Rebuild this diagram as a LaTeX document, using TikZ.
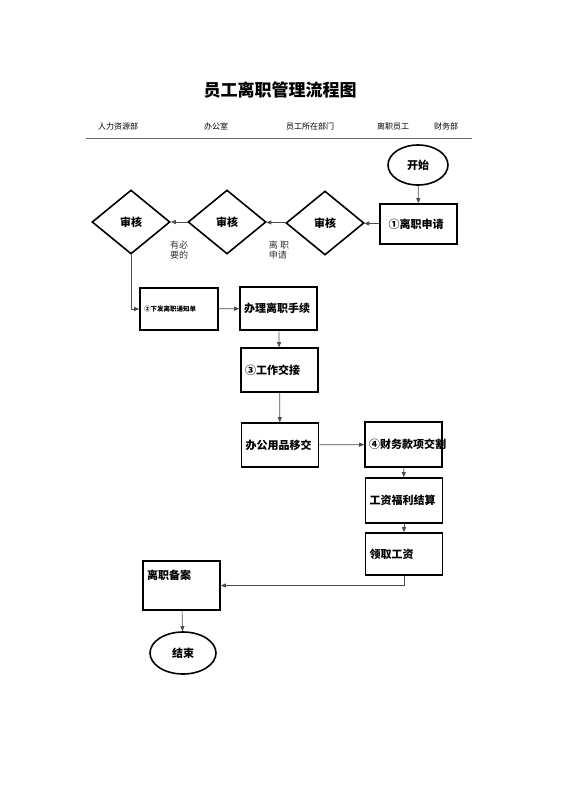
\documentclass[tikz,border=0pt]{standalone}
\usepackage{fontspec}
\setmainfont{Noto Sans CJK SC}
\usetikzlibrary{shapes.geometric,arrows.meta}
\begin{document}
\begin{tikzpicture}[x=1pt,y=-1pt,
 box/.style={draw,line width=1.6pt,minimum width=77pt,text width=69pt,align=left,font=\bfseries\fontsize{11}{11}\selectfont,inner sep=4pt},
 dia/.style={draw,diamond,line width=1.6pt,minimum width=78pt,minimum height=64pt,aspect=1.2,font=\bfseries\fontsize{11}{12}\selectfont,inner sep=0pt},
 ell/.style={draw,ellipse,line width=1.6pt,font=\bfseries\fontsize{11}{12}\selectfont},
 hd/.style={font=\fontsize{8}{9}\selectfont},
 ar/.style={draw=black!70,line width=0.7pt,-{Triangle[length=5pt,width=4pt]}},
 lb/.style={font=\fontsize{9}{10}\selectfont,align=left,text=black!80}]
\useasboundingbox (0,0) rectangle (560,792);
\node[font=\bfseries\fontsize{17}{18}\selectfont] (t) at (280,90) {员工离职管理流程图};
\node[hd] (h1) at (118,126) {人力资源部};
\node[hd] (h2) at (216,126) {办公室};
\node[hd] (h3) at (310,126) {员工所在部门};
\node[hd] (h4) at (393,126) {离职员工};
\node[hd] (h5) at (446,126) {财务部};
\draw[black!60,line width=0.8pt] (86,138) -- (472,138);
\node[ell,minimum width=60pt,minimum height=40pt] (s) at (418,165) {开始};
\node[box,minimum height=40pt,text width=60pt] (a1) at (418.5,224) {①离职申请};
\node[dia] (d3) at (325,223) {审核};
\node[dia] (d2) at (227,222) {审核};
\node[dia] (d1) at (131,222) {审核};
\node[lb] (l2) at (179,250) {有必\\要的};
\node[lb] (l3) at (279,250) {离 职\\申请};
\node[box,minimum height=42pt,text width=70pt,font=\bfseries\fontsize{6.5}{7}\selectfont] (b2) at (179,309) {②下发离职通知单};
\node[box,minimum height=43pt] (b3) at (278.5,308.5) {办理离职手续};
\node[box,minimum height=44pt] (b4) at (279.5,370) {③工作交接};
\node[box,minimum height=44pt] (b5) at (280,445) {办公用品移交};
\node[box,minimum height=45pt] (b6) at (403.5,444.5) {④财务款项交割};
\node[box,minimum height=45pt] (b7) at (404,500.5) {工资福利结算};
\node[box,minimum height=42pt] (b8) at (404,554) {领取工资};
\node[box,minimum height=49pt,text depth=22pt] (b9) at (181.5,585.5) {离职备案};
\node[ell,minimum width=66pt,minimum height=42pt] (e) at (183,653) {结束};
\draw[ar] (s) -- (a1);
\draw[ar] (a1) -- (d3);
\draw[ar] (d3) -- (d2);
\draw[ar] (d2) -- (d1);
\draw[ar] (d1.south) |- (b2.west);
\draw[ar] (b2) -- (b3);
\draw[ar] (b3) -- (b4);
\draw[ar] (b4) -- (b5);
\draw[ar] (b5) -- (b6);
\draw[ar] (b6) -- (b7);
\draw[ar] (b7) -- (b8);
\draw[ar] (b8.south) |- (b9.east);
\draw[ar] (b9) -- (e);
\end{tikzpicture}
\end{document}
